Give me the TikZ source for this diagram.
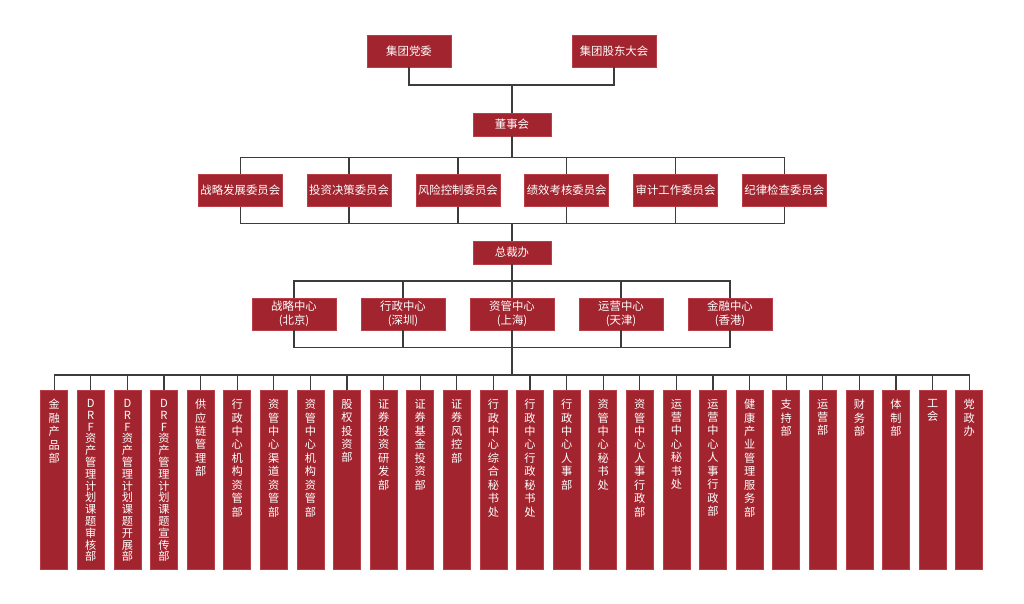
\documentclass[tikz,border=0pt]{standalone}
\usepackage{fontspec}
\setmainfont{Noto Sans CJK SC}
\definecolor{boxred}{RGB}{162,36,46}
\definecolor{boxedge}{RGB}{186,62,72}
\definecolor{linegray}{RGB}{60,60,60}
\tikzset{
  box/.style={draw=boxedge, fill=boxred, line width=0.7pt, text=white, inner sep=0pt, align=center,
    font=\fontsize{11.4}{14}\selectfont},
  topbox/.style={box, minimum width=84pt, minimum height=32pt},
  midbox/.style={box, minimum width=78pt, minimum height=23pt},
  combox/.style={box, minimum width=84pt, minimum height=32.5pt},
  cenbox/.style={box, minimum width=84pt, minimum height=32pt},
  depbox/.style={box, minimum width=27pt, minimum height=179pt, anchor=north},
  deptext/.style={text=white, inner sep=0pt, align=center, anchor=north, font=\fontsize{11.2}{13.45}\selectfont},
  deptextc/.style={deptext, font=\fontsize{11.2}{11.8}\selectfont},
  conn/.style={draw=linegray, line width=1.3pt}
}
\begin{document}
\begin{tikzpicture}[x=1pt,y=-1pt]
\fill[white] (0,0) rectangle (1024,604);
\useasboundingbox (0,0) rectangle (1024,604);

% top level
\node[topbox] (dw) at (409,51) {集团党委};
\node[topbox] (gd) at (614,51) {集团股东大会};
\node[midbox] (dsh) at (512,124.5) {董事会};

% committees
\node[combox] (c1) at (240.3,190.5) {战略发展委员会};
\node[combox] (c2) at (349.1,190.5) {投资决策委员会};
\node[combox] (c3) at (457.9,190.5) {风险控制委员会};
\node[combox] (c4) at (566.7,190.5) {绩效考核委员会};
\node[combox] (c5) at (675.5,190.5) {审计工作委员会};
\node[combox] (c6) at (784.3,190.5) {纪律检查委员会};

\node[midbox] (zcb) at (512,252.5) {总裁办};

% centers
\node[cenbox] (z1) at (294,314) {战略中心\\(北京)};
\node[cenbox] (z2) at (403,314) {行政中心\\(深圳)};
\node[cenbox] (z3) at (512,314) {资管中心\\(上海)};
\node[cenbox] (z4) at (621,314) {运营中心\\(天津)};
\node[cenbox] (z5) at (730,314) {金融中心\\(香港)};

% departments
\foreach \t [count=\i] in {
  {金\\融\\产\\品\\部},
  {D\\R\\F\\资\\产\\管\\理\\计\\划\\课\\题\\审\\核\\部},
  {D\\R\\F\\资\\产\\管\\理\\计\\划\\课\\题\\开\\展\\部},
  {D\\R\\F\\资\\产\\管\\理\\计\\划\\课\\题\\宣\\传\\部},
  {供\\应\\链\\管\\理\\部},
  {行\\政\\中\\心\\机\\构\\资\\管\\部},
  {资\\管\\中\\心\\渠\\道\\资\\管\\部},
  {资\\管\\中\\心\\机\\构\\资\\管\\部},
  {股\\权\\投\\资\\部},
  {证\\券\\投\\资\\研\\发\\部},
  {证\\券\\基\\金\\投\\资\\部},
  {证\\券\\风\\控\\部},
  {行\\政\\中\\心\\综\\合\\秘\\书\\处},
  {行\\政\\中\\心\\行\\政\\秘\\书\\处},
  {行\\政\\中\\心\\人\\事\\部},
  {资\\管\\中\\心\\秘\\书\\处},
  {资\\管\\中\\心\\人\\事\\行\\政\\部},
  {运\\营\\中\\心\\秘\\书\\处},
  {运\\营\\中\\心\\人\\事\\行\\政\\部},
  {健\\康\\产\\业\\管\\理\\服\\务\\部},
  {支\\持\\部},
  {运\\营\\部},
  {财\\务\\部},
  {体\\制\\部},
  {工\\会},
  {党\\政\\办}}
{
  \pgfmathsetmacro{\cx}{54.2+(\i-1)*36.6}
  \node[depbox] (d\i) at (\cx,390) {};
  \ifnum\i>1 \ifnum\i<5
    \node[deptextc] at ([yshift=-9pt]d\i.north) {\t};
  \else
    \node[deptext] at ([yshift=-9pt]d\i.north) {\t};
  \fi \else
    \node[deptext] at ([yshift=-9pt]d\i.north) {\t};
  \fi
}

% connectors
\coordinate (j1) at (512,85);
\draw[conn] (dw.south) |- (j1) -| (gd.south);
\draw[conn] (j1) -- (dsh.north);

\coordinate (b2) at (512,157.3);
\draw[conn] (dsh.south) -- (b2);
\draw[conn] (c1.north) |- (b2) -| (c6.north);
\foreach \k in {2,3,4,5} \draw[conn] (c\k.north) -- (c\k.north |- b2);

\coordinate (b3) at (512,223.3);
\draw[conn] (c1.south) |- (b3) -| (c6.south);
\foreach \k in {2,3,4,5} \draw[conn] (c\k.south) -- (c\k.south |- b3);
\draw[conn] (b3) -- (zcb.north);

\coordinate (b4) at (512,281);
\draw[conn] (zcb.south) -- (b4);
\draw[conn] (z1.north) |- (b4) -| (z5.north);
\foreach \k in {2,3,4} \draw[conn] (z\k.north) -- (z\k.north |- b4);

\coordinate (b5) at (512,347.5);
\draw[conn] (z1.south) |- (b5) -| (z5.south);
\foreach \k in {2,4} \draw[conn] (z\k.south) -- (z\k.south |- b5);

\coordinate (b6) at (512,375);
\draw[conn] (z3.south) -- (b6);
\draw[conn] (d1.north) |- (b6) -| (d26.north);
\foreach \k in {2,...,25} \draw[conn] (d\k.north) -- (d\k.north |- b6);
\end{tikzpicture}
\end{document}
